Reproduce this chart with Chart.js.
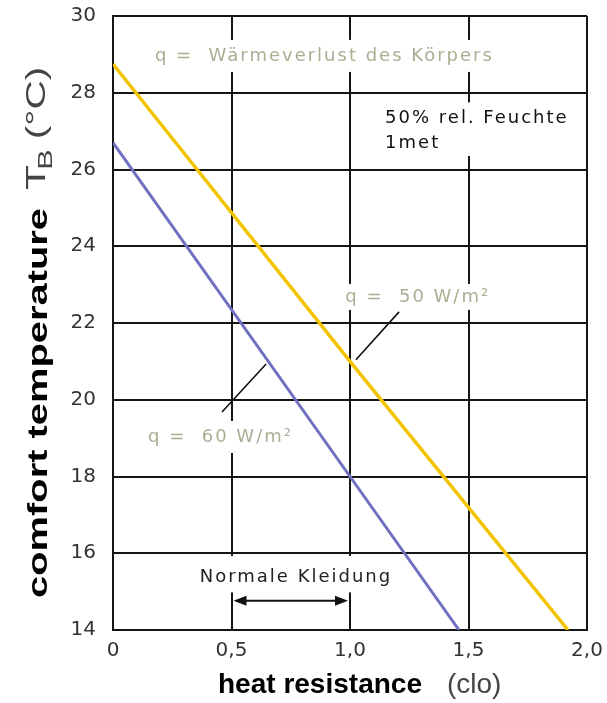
<!DOCTYPE html>
<html>
<head>
<meta charset="utf-8">
<script src="https://cdn.jsdelivr.net/npm/chart.js@4.4.1/dist/chart.umd.min.js"></script>
<style>
  body { margin: 0; background: #fff; }
</style>
</head>
<body>
<canvas id="comfort_chart" width="607" height="703"></canvas>
<script>
// data
let clo_50 = [0, 1.0, 1.92];          // heat resistance (clo), q = 50 W/m²
let temp_50 = [28.75, 21.0, 14];      // comfort temperature (°C)
let clo_60 = [0, 1.0, 1.46];          // q = 60 W/m²
let temp_60 = [26.7, 18.0, 14];

let x_tick_values = [0, 0.5, 1.0, 1.5, 2.0];
let x_tick_labels = ["0", "0,5", "1,0", "1,5", "2,0"];
let y_tick_values = [14, 16, 18, 20, 22, 24, 26, 28, 30];

// turn two arrays into {x, y} points
function toPoints(xs, ys) {
    return xs.map(function (x, i) { return { x: x, y: ys[i] }; });
}

let grid_color = "#151515";
let note_color = "#abae93";

// texts, leader lines and the arrow, placed in data units
let textPlugin = {
    id: "texts",
    beforeInit: function (chart) {
        chart.ctx.letterSpacing = "2px";
    },
    afterDatasetsDraw: function (chart) {
        let ctx = chart.ctx;
        let sx = chart.scales.x, sy = chart.scales.y;
        let px = function (v) { return sx.getPixelForValue(v); };
        let py = function (v) { return sy.getPixelForValue(v); };

        ctx.save();
        ctx.textBaseline = "middle";

        // note with a white box behind it (breaks the grid like the original)
        function note(text, x, y, color, boxH, align) {
            ctx.font = "18px 'DejaVu Sans'";
            ctx.letterSpacing = "2px";
            let w = ctx.measureText(text).width;
            let left = align === "center" ? px(x) - w / 2 : px(x);
            ctx.fillStyle = "#fff";
            ctx.fillRect(left - 5, py(y) - boxH / 2, w + 8, boxH);
            ctx.fillStyle = color;
            ctx.textAlign = "left";
            ctx.fillText(text, left, py(y));
        }

        note("q =  Wärmeverlust des Körpers", 0.177, 28.96, note_color, 32);
        // box for the two-line note
        ctx.fillStyle = "#fff";
        ctx.fillRect(px(1.13), py(27.75), px(1.97) - px(1.13), py(26.35) - py(27.75));
        note("50% rel. Feuchte", 1.148, 27.34, "#111", 22);
        note("1met", 1.148, 26.69, "#111", 22);
        note("q =  50 W/m²", 0.98, 22.68, note_color, 26);
        note("q =  60 W/m²", 0.148, 19.03, note_color, 32);

        // box under "Normale Kleidung" up to the arrow
        ctx.fillStyle = "#fff";
        ctx.fillRect(px(0.39), py(15.93), px(1.17) - px(0.39), py(14.98) - py(15.93));
        note("Normale Kleidung", 0.772, 15.38, "#222", 20, "center");

        // leader lines
        ctx.strokeStyle = "#111";
        ctx.lineWidth = 1.6;
        ctx.beginPath();
        ctx.moveTo(px(1.207), py(22.29));
        ctx.lineTo(px(1.025), py(21.04));
        ctx.moveTo(px(0.646), py(20.93));
        ctx.lineTo(px(0.46), py(19.68));
        ctx.stroke();

        // double arrow 0,5 .. 1,0
        let ay = py(14.76);
        let a0 = px(0.5) + 2, a1 = px(1.0) - 2;
        ctx.lineWidth = 2;
        ctx.beginPath();
        ctx.moveTo(a0 + 8, ay);
        ctx.lineTo(a1 - 8, ay);
        ctx.stroke();
        ctx.fillStyle = "#111";
        ctx.beginPath();
        ctx.moveTo(a0, ay);
        ctx.lineTo(a0 + 13, ay - 5);
        ctx.lineTo(a0 + 13, ay + 5);
        ctx.closePath();
        ctx.moveTo(a1, ay);
        ctx.lineTo(a1 - 13, ay - 5);
        ctx.lineTo(a1 - 13, ay + 5);
        ctx.closePath();
        ctx.fill();

        // x axis title: bold part + unit
        ctx.letterSpacing = "0px";
        ctx.textBaseline = "alphabetic";
        ctx.textAlign = "left";
        ctx.fillStyle = "#000";
        ctx.font = "bold 27px 'Liberation Sans'";
        let t1 = "heat resistance";
        let w1 = ctx.measureText(t1).width;
        ctx.save();
        ctx.translate(218, 693);
        ctx.scale(204 / w1, 1);
        ctx.fillText(t1, 0, 0);
        ctx.restore();
        ctx.fillStyle = "#444";
        ctx.font = "28px 'Liberation Sans'";
        ctx.fillText("(clo)", 447, 693);

        // y axis title, rotated
        ctx.save();
        ctx.translate(47, 598);
        ctx.rotate(-Math.PI / 2);
        ctx.fillStyle = "#000";
        ctx.font = "bold 27px 'Liberation Sans'";
        let t2 = "comfort temperature";
        let w2 = ctx.measureText(t2).width;
        ctx.save();
        ctx.scale(390 / w2, 1);
        ctx.fillText(t2, 0, 0);
        ctx.restore();
        // T_B (°C), stretched along like the rest of the title
        ctx.fillStyle = "#444";
        ctx.save();
        ctx.translate(408, 0);
        ctx.scale(1.45, 1);
        ctx.font = "28px 'Liberation Sans'";
        ctx.fillText("T", 0, -2);
        ctx.font = "21px 'Liberation Sans'";
        ctx.fillText("B", 14, 5);
        ctx.font = "28px 'Liberation Sans'";
        ctx.fillText("(°C)", 35, -2);
        ctx.restore();
        ctx.restore();

        ctx.restore();
    }
};

let ctx = document.getElementById("comfort_chart").getContext("2d");
let chart = new Chart(ctx, {
    type: "scatter",
    data: {
        datasets: [
            {
                label: "q = 50 W/m²",
                data: toPoints(clo_50, temp_50),
                showLine: true,
                borderColor: "#f2c400",
                borderWidth: 3.5,
                pointRadius: 0
            },
            {
                label: "q = 60 W/m²",
                data: toPoints(clo_60, temp_60),
                showLine: true,
                borderColor: "#7070c0",
                borderWidth: 3,
                pointRadius: 0
            }
        ]
    },
    options: {
        responsive: false,
        animation: false,
        devicePixelRatio: 1,
        layout: { padding: { top: 16, right: 20, left: 0, bottom: 0 } },
        plugins: {
            legend: { display: false },
            tooltip: { enabled: false }
        },
        scales: {
            x: {
                type: "linear",
                min: 0,
                max: 2,
                afterBuildTicks: function (scale) {
                    scale.ticks = x_tick_values.map(function (v) { return { value: v }; });
                },
                afterFit: function (scale) {
                    scale.height = 73;
                    scale.paddingLeft = 0;
                    scale.paddingRight = 0;
                },
                ticks: {
                    callback: function (value, index) { return x_tick_labels[index]; },
                    font: { family: "DejaVu Sans", size: 20 },
                    color: "#333",
                    padding: 9,
                    maxRotation: 0
                },
                grid: { color: grid_color, lineWidth: 2, drawTicks: false },
                border: { color: grid_color, width: 2 }
            },
            y: {
                min: 14,
                max: 30,
                afterBuildTicks: function (scale) {
                    scale.ticks = y_tick_values.map(function (v) { return { value: v }; });
                },
                afterFit: function (scale) {
                    scale.width = 113;
                    scale.paddingTop = 0;
                    scale.paddingBottom = 0;
                },
                ticks: {
                    font: { family: "DejaVu Sans", size: 20 },
                    color: "#333",
                    padding: 17
                },
                grid: { color: grid_color, lineWidth: 2, drawTicks: false },
                border: { color: grid_color, width: 2 }
            }
        }
    },
    plugins: [textPlugin]
});
</script>
</body>
</html>
